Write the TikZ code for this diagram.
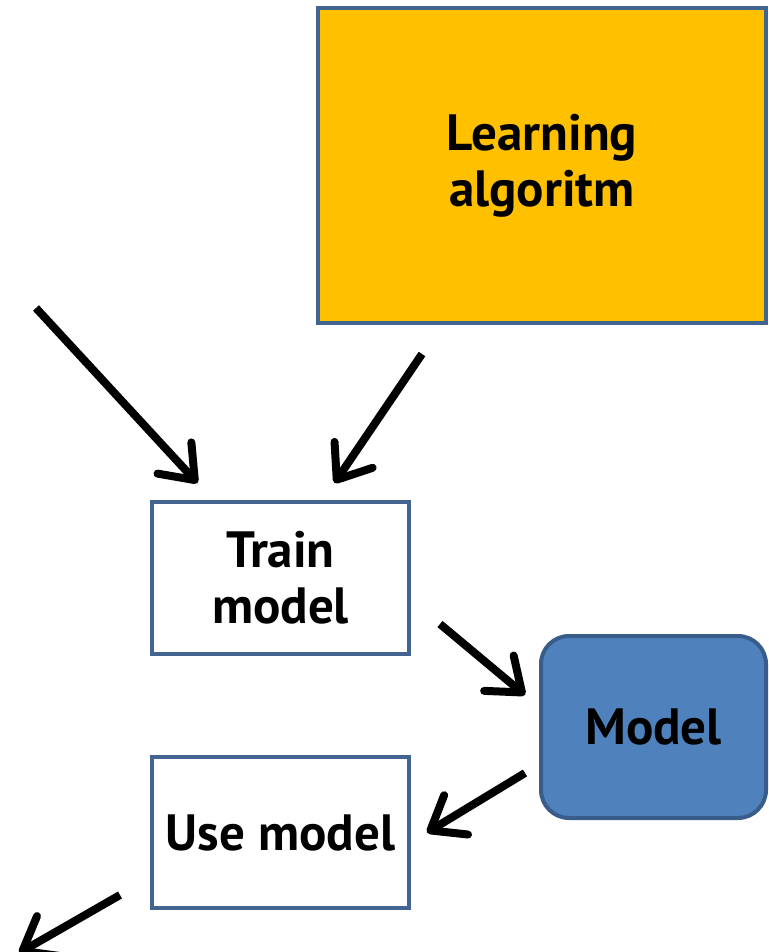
\documentclass[tikz,border=0pt]{standalone}
\usepackage{fontspec}
\setmainfont{PT Sans}
\usetikzlibrary{arrows.meta,calc}
\definecolor{boxline}{RGB}{65,100,145}
\definecolor{learnfill}{RGB}{255,192,0}
\definecolor{modelfill}{RGB}{79,129,189}
\definecolor{modelline}{RGB}{56,93,138}
\begin{document}
\begin{tikzpicture}[x=1pt,y=-1pt,
		box/.style={draw=boxline, line width=4pt, inner sep=0pt, align=center,
			font=\fontsize{51}{56}\selectfont\bfseries},
		arr/.style={line width=8pt, -{Straight Barb[length=30pt,width=46pt,round]}}]
		\useasboundingbox (0,0) rectangle (768,952);

		\node (learn)[box, fill=learnfill, minimum width=448pt, minimum height=315pt] at (542,165.5) {Learning\\algoritm};
		\node (train)[box, fill=white, minimum width=257pt, minimum height=152pt] at (280.5,578) {Train\\model};
		\node (model)[box, draw=modelline, fill=modelfill, rounded corners=28pt, minimum width=225pt, minimum height=182pt] at (653.5,727) {Model};
		\node (use)[box, fill=white, minimum width=257pt, minimum height=151pt] at (280.5,832.5) {Use model};

		\coordinate (data) at (36,308);
		\coordinate (out) at (19,953);

		\draw[arr] (data) -- ($(train.north)+(-83,-17)$);
		\draw[arr] ($(learn.south)+(-120,29)$) -- ($(train.north)+(54,-17)$);
		\draw[arr] ($(train.east)+(29,46)$) -- ($(model.west)+(-14,-32)$);
		\draw[arr] ($(model.west)+(-14,46)$) -- ($(use.east)+(16,0)$);
		\draw[arr] ($(use.south west)+(-30,-15)$) -- (out);
	\end{tikzpicture}
\end{document}
